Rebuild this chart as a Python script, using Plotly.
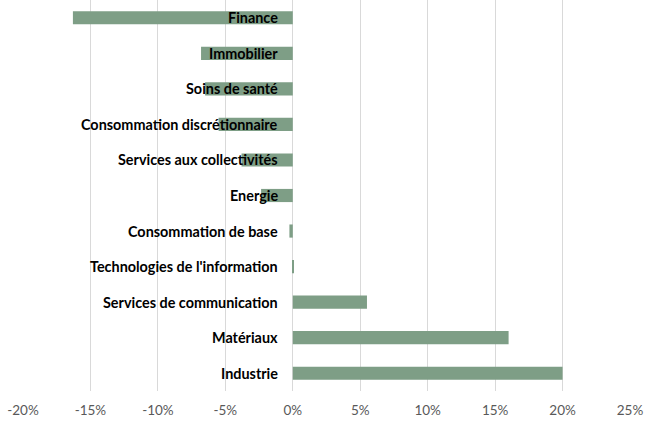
import plotly.graph_objects as go

categories = ["Finance", "Immobilier", "Soins de santé", "Consommation discrétionnaire",
              "Services aux collectivités", "Energie", "Consommation de base",
              "Technologies de l'information", "Services de communication",
              "Matériaux", "Industrie"]
values = [-16.3, -6.8, -6.5, -5.5, -3.8, -2.35, -0.25, 0.05, 5.5, 16.0, 20.0]
tick_vals = [-20, -15, -10, -5, 0, 5, 10, 15, 20, 25]
tick_text = [f"{v}%" for v in tick_vals]

fig = go.Figure()
fig.add_trace(go.Bar(
    x=values, y=categories, orientation="h",
    marker=dict(color="#7E9E86", line=dict(width=0)),
    hoverinfo="x+y",
))

for c in categories:
    fig.add_annotation(x=0, y=c, text=f"<b>{c}</b>", showarrow=False,
                       xanchor="right", yanchor="middle", xshift=-13,
                       font=dict(family="Lato", size=14.4, color="#000000"))

fig.update_layout(
    width=650, height=423,
    margin=dict(l=23, r=20, t=0, b=32),
    paper_bgcolor="white", plot_bgcolor="white",
    showlegend=False, bargap=0.63,
    xaxis=dict(range=[-20, 25], tickvals=tick_vals, ticktext=tick_text,
               showgrid=True, gridcolor="#D9D9D9", gridwidth=1,
               zeroline=True, zerolinecolor="#D9D9D9", zerolinewidth=1,
               tickfont=dict(family="Lato", size=13.5, color="#595959"),
               ticks="", ticklabelstandoff=9, fixedrange=True),
    yaxis=dict(categoryorder="array", categoryarray=categories[::-1],
               showticklabels=False, showgrid=False,
               zeroline=False, fixedrange=True),
)

fig.write_html("out.html", config={"displayModeBar": False},
               post_script="document.body.style.margin='0';")
